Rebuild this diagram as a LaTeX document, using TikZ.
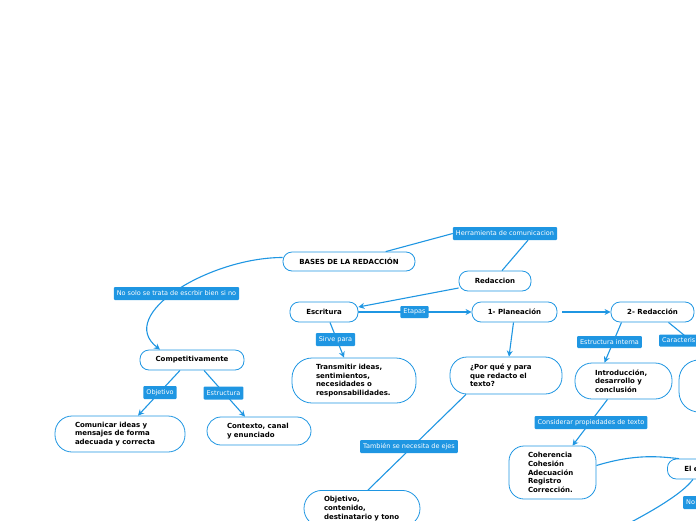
\documentclass[tikz,border=0pt]{standalone}
\usepackage{fontspec}
\setmainfont{DejaVu Sans}
\usetikzlibrary{arrows.meta,backgrounds}
\definecolor{mmblue}{RGB}{31,150,226}
\newcommand{\ideafont}{\bfseries\fontsize{7}{8.7}\selectfont}
\newcommand{\tagfont}{\fontsize{6.5}{7.5}\selectfont}

\begin{document}
\begin{tikzpicture}[x=1pt, y=-1pt,
    idea/.style={draw=mmblue, line width=0.8pt, fill=white, rounded corners=9pt,
      font=\ideafont, inner xsep=0pt, inner ysep=0pt, minimum height=20pt},
    tag/.style={fill=mmblue, text=white, font=\tagfont, rounded corners=1pt,
      inner xsep=3pt, inner ysep=0pt, minimum height=13pt},
    link/.style={mmblue, line width=1.1pt},
    arr/.style={link, -{Stealth[length=6pt, width=6pt]}}]
    \useasboundingbox (0,0) rectangle (696,520);
    \clip (0,0) rectangle (696,520);

    \node[idea, minimum width=132pt, minimum height=19pt] (bases) at (349,261.5) {BASES DE LA REDACCIÓN};
    \node[idea, minimum width=72pt] (redac) at (495,281) {Redaccion};
    \node[idea, minimum width=68pt] (escr) at (324,312) {Escritura};
    \node[idea, minimum width=85pt] (plan) at (514.5,312) {1- Planeación};
    \node[idea, minimum width=83pt] (redac2) at (652.5,312) {2- Redacción};
    \node[idea, minimum width=104pt] (comp) at (192,360) {Competitivamente};

    \node[idea, align=left, text width=76pt, inner xsep=24pt, minimum height=45pt, rounded corners=20pt] (trans) at (354,380.5)
      {Transmitir ideas,\\ sentimientos,\\ necesidades o\\ responsabilidades.};
    \node[idea, align=left, text width=72pt, inner xsep=20pt, minimum height=37pt, rounded corners=17pt] (porque) at (506,375.5)
      {¿Por qué y para\\ que redacto el\\ texto?};
    \node[idea, align=left, text width=57pt, inner xsep=20pt, minimum height=36pt, rounded corners=17pt] (intro) at (623.5,381)
      {Introducción,\\ desarrollo y\\ conclusión};
    \node[idea, minimum width=70pt, minimum height=52pt, rounded corners=20pt] (rnodo) at (714,386) {};
    \node[idea, align=left, text width=90pt, inner xsep=20pt, minimum height=36pt, rounded corners=17pt] (comu) at (120,434)
      {Comunicar ideas y\\ mensajes de forma\\ adecuada y correcta};
    \node[idea, align=left, text width=64pt, inner xsep=20pt, minimum height=28pt, rounded corners=14pt] (contx) at (259,431)
      {Contexto, canal\\ y enunciado};
    \node[idea, align=left, text width=76pt, inner xsep=20pt, inner ysep=6pt, rounded corners=18pt, anchor=north] (obj) at (362,490)
      {Objetivo,\\ contenido,\\ destinatario y tono};
    \node[idea, align=left, text width=49pt, inner xsep=19pt, minimum height=53pt, rounded corners=15pt] (coher) at (552.5,472.5)
      {Coherencia\\ Cohesión\\ Adecuación\\ Registro\\ Corrección.};
    \node[idea, align=left, text width=46pt, inner xsep=17pt, anchor=west] (ele) at (667,469) {El e};

    \node[tag] (herr) at (505,233.5) {Herramienta de comunicacion};
    \node[tag] (nosolo) at (176.5,293.5) {No solo se trata de escrbir bien si no};
    \node[tag, minimum height=12pt] (etapas) at (414.5,312) {Etapas};
    \node[tag] (sirve) at (335.5,339.5) {Sirve para};
    \node[tag] (tobj) at (160,392.5) {Objetivo};
    \node[tag] (testr) at (223.5,393) {Estructura};
    \node[tag] (tamb) at (409,446.5) {También se necesita de ejes};
    \node[tag, minimum height=12pt] (tint) at (609.5,342) {Estructura interna};
    \node[tag, minimum height=12pt, anchor=west] (tcar) at (659,340.5) {Caracteris};
    \node[tag] (tprop) at (591,422.5) {Considerar propiedades de texto};
    \node[tag, anchor=west] (tno) at (683,502.5) {No};
    \coordinate (abajo) at (596,540);

    \begin{scope}[on background layer]
      \draw[link] (bases) -- (herr.west);
      \draw[link] ([xshift=23pt]herr.south) -- ([xshift=7pt]redac.north);
      \draw[arr] ([yshift=-7pt]redac.west) -- ([yshift=5pt]escr.east);
      \draw[arr] (escr) -- (plan);
      \draw[arr, shorten <=5pt] (plan) -- (redac2);
      \draw[arr] ([xshift=6pt]escr.south) -- ([xshift=-10pt]trans.north);
      \draw[arr] ([xshift=-1pt]plan.south) -- ([xshift=3pt]porque.north);
      \draw[arr] ([xshift=-31pt]redac2.south) -- ([xshift=-19pt]intro.north);
      \draw[arr] ([xshift=16pt]redac2.south) -- (rnodo.north);
      \draw[arr] ([xshift=-16pt]intro.south) -- ([xshift=20pt]coher.north);
      \draw[arr] ([yshift=4pt]bases.west) .. controls +(-73,0) and +(-45,-35) .. ([xshift=-32pt]comp.north);
      \draw[arr] ([xshift=-12pt]comp.south) -- ([xshift=18pt]comu.north);
      \draw[arr] ([xshift=12pt]comp.south) -- ([xshift=-14pt]contx.north);
      \draw[link] ([xshift=-40pt]porque.south) -- ([xshift=6pt]obj.north);
      \draw[link] ([yshift=7pt]coher.east) .. controls +(40,-12) and +(-20,-2) .. ([xshift=12pt]ele.north west);
      \draw[link] ([xshift=26pt]ele.south west) .. controls +(-15,20) and +(30,-15) .. (abajo);
    \end{scope}
\end{tikzpicture}
\end{document}
